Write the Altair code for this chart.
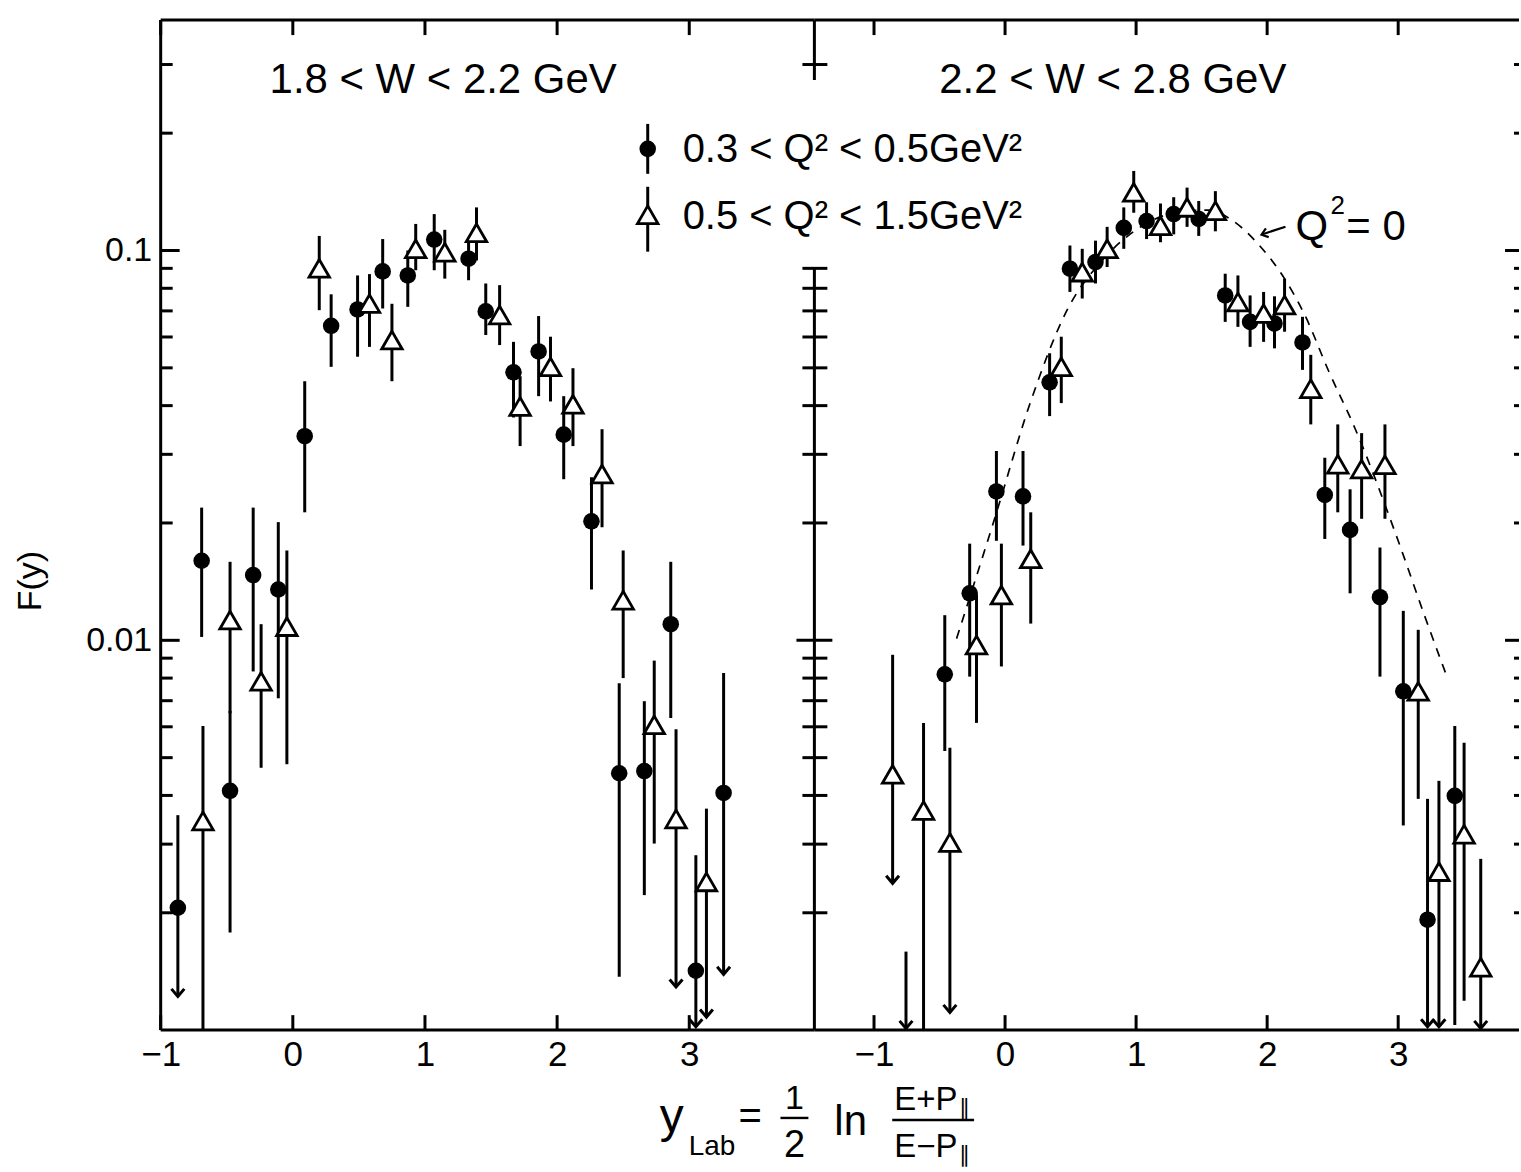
import altair as alt
import pandas as pd

FONT = "Liberation Sans"
H = 1012
W_LEFT = 655
W_RIGHT = 706
Y_DOMAIN = [0.001, 0.39]
LEFT_X_DOMAIN = [-1.0, 3.947]
RIGHT_X_DOMAIN = [-1.455, 3.922]

# ---------------- 1.8 < W < 2.2 GeV ----------------
# filled circles: 0.3 < Q^2 < 0.5 GeV^2
lc_x = [-0.87, -0.69, -0.475, -0.30, -0.11, 0.09, 0.29, 0.49, 0.68, 0.87, 1.07,
        1.33, 1.46, 1.67, 1.86, 2.05, 2.26, 2.47, 2.66, 2.86, 3.05, 3.26]
lc_y = [0.00206, 0.0160, 0.00411, 0.0147, 0.0135, 0.0334, 0.0641, 0.0706, 0.0884, 0.0863, 0.1067,
        0.0953, 0.0698, 0.0487, 0.0551, 0.0337, 0.0202, 0.00456, 0.00462, 0.0110, 0.00142, 0.00406]
lc_lo = [0.00122, 0.0102, 0.00178, 0.00832, 0.0071, 0.0213, 0.0503, 0.0534, 0.0710, 0.0717, 0.0890,
         0.0839, 0.0607, 0.0373, 0.0423, 0.0259, 0.0135, 0.00137, 0.00222, 0.00632, 0.00102, 0.00139]
lc_hi = [0.00356, 0.0219, 0.00659, 0.0219, 0.0201, 0.0462, 0.0772, 0.0863, 0.107, 0.100, 0.124,
         0.107, 0.0823, 0.0583, 0.0679, 0.0423, 0.0262, 0.00776, 0.00698, 0.0159, 0.00281, 0.00824]
lc_lim = [True] + [False] * 19 + [True, True]

# open triangles: 0.5 < Q^2 < 1.5 GeV^2
lt_x = [-0.68, -0.475, -0.24, -0.045, 0.20, 0.58, 0.75, 0.93, 1.15, 1.39,
        1.565, 1.72, 1.95, 2.12, 2.34, 2.50, 2.735, 2.90, 3.13]
lt_y = [0.00344, 0.01127, 0.00785, 0.01084, 0.090, 0.0731, 0.0589, 0.101, 0.099, 0.111,
        0.0683, 0.0398, 0.0503, 0.0403, 0.0267, 0.01267, 0.00607, 0.00348, 0.0024]
lt_lo = [0.001, 0.0065, 0.00471, 0.00481, 0.0703, 0.0566, 0.0462, 0.089, 0.0847, 0.0943,
         0.0572, 0.0315, 0.0410, 0.0315, 0.0195, 0.0080, 0.00301, 0.00129, 0.00108]
lt_hi = [0.00603, 0.0159, 0.0110, 0.0170, 0.109, 0.087, 0.073, 0.117, 0.113, 0.129,
         0.0815, 0.0476, 0.0601, 0.0499, 0.0348, 0.0170, 0.00887, 0.00591, 0.0037]
lt_lim = [False] * 17 + [True, True]

# ---------------- 2.2 < W < 2.8 GeV ----------------
rc_x = [-0.756, -0.46, -0.27, -0.066, 0.137, 0.34, 0.495, 0.69, 0.906, 1.08, 1.287,
        1.478, 1.68, 1.87, 2.056, 2.27, 2.44, 2.633, 2.861, 3.039, 3.224, 3.432]
rc_y = [None, 0.00818, 0.0132, 0.0241, 0.0234, 0.0459, 0.0898, 0.0934, 0.1143, 0.119, 0.124,
        0.1205, 0.0767, 0.0656, 0.0650, 0.0581, 0.0236, 0.0192, 0.0129, 0.0074, 0.00192, 0.00399]
rc_lo = [0.00101, 0.0052, 0.00807, 0.0180, 0.0175, 0.0376, 0.0783, 0.0823, 0.101, 0.107, 0.110,
         0.109, 0.0656, 0.0566, 0.0561, 0.0494, 0.0182, 0.0132, 0.00807, 0.00335, 0.00102, 0.00103]
rc_hi = [0.00159, 0.0116, 0.0177, 0.0306, 0.0306, 0.0545, 0.103, 0.106, 0.129, 0.133, 0.137,
         0.134, 0.0872, 0.0767, 0.0763, 0.0676, 0.0294, 0.0244, 0.0173, 0.0119, 0.00392, 0.00603]
rc_lim = [True] + [False] * 19 + [True, False]

rt_x = [-0.858, -0.622, -0.421, -0.218, -0.028, 0.196, 0.429, 0.589, 0.779, 0.982, 1.186, 1.389,
        1.605, 1.777, 1.973, 2.133, 2.333, 2.539, 2.721, 2.899, 3.153, 3.311, 3.503, 3.63]
rt_y = [0.00453, 0.00366, 0.00303, 0.00973, 0.01306, 0.01618, 0.0503, 0.0880, 0.101, 0.141, 0.1158, 0.129,
        0.1265, 0.0738, 0.0689, 0.0725, 0.0442, 0.0283, 0.0275, 0.0282, 0.0074, 0.00255, 0.00318, 0.00145]
rt_lo = [0.00238, 0.001, 0.00111, 0.00614, 0.00857, 0.01104, 0.0406, 0.0753, 0.0907, 0.125, 0.105, 0.115,
         0.112, 0.0637, 0.0583, 0.0619, 0.0358, 0.0213, 0.0205, 0.0205, 0.00392, 0.00102, 0.00119, 0.00101]
rt_hi = [0.00918, 0.00614, 0.0053, 0.0131, 0.0177, 0.0213, 0.0601, 0.101, 0.115, 0.160, 0.132, 0.145,
         0.142, 0.0863, 0.0783, 0.0847, 0.054, 0.0358, 0.0340, 0.0358, 0.01064, 0.00436, 0.00546, 0.00275]
rt_lim = [True, False, True] + [False] * 18 + [True, False, True]

# Q^2 = 0 (photoproduction) curve
q0_x = [-0.37, -0.08, 0.20, 0.47, 0.75, 1.0, 1.3, 1.55, 1.71, 1.93, 2.11, 2.29, 2.47, 2.67, 3.0, 3.2, 3.37]
q0_y = [0.0101, 0.0205, 0.0414, 0.070, 0.095, 0.113, 0.125, 0.127, 0.121, 0.104, 0.087, 0.068,
        0.049, 0.035, 0.018, 0.0116, 0.0081]

# axis tick values
x_ticks = [-1, 0, 1, 2, 3]
y_major = [0.01, 0.1]
y_minor = [0.002, 0.003, 0.004, 0.005, 0.006, 0.007, 0.008, 0.009,
           0.02, 0.03, 0.04, 0.05, 0.06, 0.07, 0.08, 0.09, 0.2, 0.3]
div_minor = [0.002, 0.003, 0.004, 0.005, 0.006, 0.007, 0.008, 0.009,
             0.02, 0.03, 0.04, 0.05, 0.06, 0.07, 0.08, 0.09, 0.3]

CHEVRON = "M-0.85,-1L0,0L0.85,-1"
ARROW_LEFT = "M1,-0.75L0,0L1,0.75"
ONE = pd.DataFrame({"k": [0]})
LW = 3.0
DOT_SIZE = 275
TRI_SIZE = 420
TRI_STROKE = 2.8


def frame(x, y, lo, hi, lim):
    return pd.DataFrame({"x": x, "y": y, "lo": lo, "hi": hi, "lim": lim})


y_scale = alt.Scale(type="log", domain=Y_DOMAIN, nice=False)
x_axis = alt.Axis(values=x_ticks, ticks=False, tickSize=0, domain=False, grid=False,
                  labelExpr="datum.value < 0 ? '\u2212' + (-datum.value) : '' + datum.value",
                  labelFont=FONT, labelFontSize=35, labelColor="black", labelPadding=7,
                  labelFlush=False, labelOverlap=False, title=None)
y_axis = alt.Axis(values=y_major, ticks=False, tickSize=0, domain=False, grid=False,
                  labelExpr="datum.value > 0.05 ? '0.1' : '0.01'",
                  labelFont=FONT, labelFontSize=34, labelColor="black", labelPadding=9,
                  labelFlush=False, labelOverlap=False, title=None)


def line(x0, x1, y0, y1, width=3.0):
    return alt.Chart(ONE).mark_rule(strokeWidth=width, color="black").encode(
        x=alt.value(x0), x2=alt.value(x1), y=alt.value(y0), y2=alt.value(y1))


def text(s, x, y, size, align="left", baseline="alphabetic", angle=0):
    return alt.Chart(ONE).mark_text(text=s, font=FONT, fontSize=size, align=align,
                                    baseline=baseline, angle=angle, color="black").encode(
        x=alt.value(x), y=alt.value(y))


def panel(circ, tri, x_domain, width, show_y, extra_back=(), extra_front=()):
    xs = alt.Scale(domain=x_domain, nice=False, zero=False)
    yax = y_axis if show_y else None

    def X(f):
        return alt.X(f, type="quantitative", scale=xs, axis=x_axis)

    def Y(f):
        return alt.Y(f, type="quantitative", scale=y_scale, axis=yax)

    both = pd.concat([circ, tri], ignore_index=True)
    limits = both[both["lim"]]

    def yticks(values, x0, x1):
        return alt.Chart(pd.DataFrame({"v": values})).mark_rule(
            strokeWidth=LW, color="black").encode(y=Y("v"), x=alt.value(x0), x2=alt.value(x1))

    def xticks(y0, y1):
        return alt.Chart(pd.DataFrame({"v": x_ticks})).mark_rule(
            strokeWidth=LW, color="black").encode(x=X("v"), y=alt.value(y0), y2=alt.value(y1))

    layers = [xticks(H - 15, H), xticks(0, 15)]
    if show_y:
        layers += [yticks(y_minor, 0, 12), yticks(y_major, 0, 19)]
    else:
        # divider shared with the left panel, ticks crossing it
        layers += [yticks(div_minor, -12, 13), yticks([0.01], -18, 18),
                   yticks(y_minor, width - 5, width), yticks(y_major, width - 14, width)]
    layers += list(extra_back)

    bars = alt.Chart(both).mark_rule(strokeWidth=LW, color="black").encode(
        x=X("x"), y=Y("lo"), y2=alt.Y2("hi"))
    heads = alt.Chart(limits).mark_point(shape=CHEVRON, filled=False, size=230,
                                         strokeWidth=LW, color="black", opacity=1).encode(
        x=X("x"), y=Y("lo"))
    dots = alt.Chart(circ).mark_point(shape="circle", filled=True, size=DOT_SIZE,
                                      color="black", opacity=1).encode(x=X("x"), y=Y("y"))
    tris = alt.Chart(tri).mark_point(shape="triangle-up", filled=True, fill="white",
                                     stroke="black", strokeWidth=TRI_STROKE, size=TRI_SIZE,
                                     opacity=1, fillOpacity=1).encode(x=X("x"), y=Y("y"))
    layers += [bars, heads, dots, tris]
    layers += list(extra_front)
    return alt.layer(*layers).properties(width=width, height=H)


left_c = frame(lc_x, lc_y, lc_lo, lc_hi, lc_lim)
left_t = frame(lt_x, lt_y, lt_lo, lt_hi, lt_lim)
right_c = frame(rc_x, rc_y, rc_lo, rc_hi, rc_lim)
right_t = frame(rt_x, rt_y, rt_lo, rt_hi, rt_lim)

# ---- left panel ----
left_front = [
    line(0, 0, 0, H), line(0, W_LEFT, 0, 0), line(0, W_LEFT, H, H),
    text("1.8 < W < 2.2 GeV", 283, 73, 42, align="center"),
    text("F(y)", -130, 562, 34, align="center", baseline="middle", angle=270),
]
left = panel(left_c, left_t, LEFT_X_DOMAIN, W_LEFT, True, extra_front=left_front)

# ---- right panel ----
xs_r = alt.Scale(domain=RIGHT_X_DOMAIN, nice=False, zero=False)
curve = alt.Chart(pd.DataFrame({"x": q0_x, "y": q0_y})).mark_line(
    strokeDash=[9, 8], strokeWidth=1.7, color="black", interpolate="monotone").encode(
    x=alt.X("x:Q", scale=xs_r, axis=x_axis), y=alt.Y("y:Q", scale=y_scale, axis=None))

legend_marks = [
    line(-167, -167, 104, 154, LW),
    line(-167, -167, 167, 232, LW),
    alt.Chart(ONE).mark_point(shape="circle", filled=True, size=DOT_SIZE, color="black", opacity=1).encode(
        x=alt.value(-167), y=alt.value(129)),
    alt.Chart(ONE).mark_point(shape="triangle-up", filled=True, fill="white", stroke="black",
                              strokeWidth=TRI_STROKE, size=TRI_SIZE, opacity=1).encode(
        x=alt.value(-167), y=alt.value(195)),
    text("0.3 < Q\u00b2 < 0.5GeV\u00b2", -132, 130, 40, baseline="middle"),
    text("0.5 < Q\u00b2 < 1.5GeV\u00b2", -132, 197, 40, baseline="middle"),
]

annot = [
    text("Q", 482, 220, 42),
    text("2", 517, 194, 26),
    text("= 0", 533, 220, 42),
    line(472, 449, 207, 214.5, 2.2),
    alt.Chart(ONE).mark_point(shape=ARROW_LEFT, filled=False, size=150, strokeWidth=2.2,
                              color="black", opacity=1, angle=342).encode(
        x=alt.value(448), y=alt.value(215)),
]

# x-axis title: y_Lab = 1/2 ln (E+P||)/(E-P||)
x_title = [
    text("y", -155, 1114, 48),
    text("Lab", -126, 1137, 28),
    text("=", -76, 1111, 40),
    text("1", -20, 1091, 34, align="center"),
    line(-34, -6, 1100, 1100, 2.4),
    text("2", -20, 1139, 38, align="center"),
    text("ln", 20, 1117, 42),
    text("E+P", 80, 1092, 33),
    text("\u2225", 145, 1097, 22),
    line(78, 160, 1102, 1102, 2.6),
    text("E\u2212P", 80, 1139, 33),
    text("\u2225", 145, 1144, 22),
]

right_front = [
    line(0, 0, 0, 60), line(0, 0, 248, H),
    line(0, W_RIGHT, 0, 0), line(0, W_RIGHT, H, H),
    text("2.2 < W < 2.8 GeV", 299, 73, 42, align="center"),
] + legend_marks + annot + x_title

right = panel(right_c, right_t, RIGHT_X_DOMAIN, W_RIGHT, False,
              extra_back=[curve], extra_front=right_front)

chart = alt.hconcat(left, right, spacing=0, bounds="flush").properties(
    padding={"left": 14, "top": 17, "right": 0, "bottom": 0},
    background="white",
).configure_view(stroke=None)

chart.save("out.html", embed_options={"renderer": "svg", "actions": False})
